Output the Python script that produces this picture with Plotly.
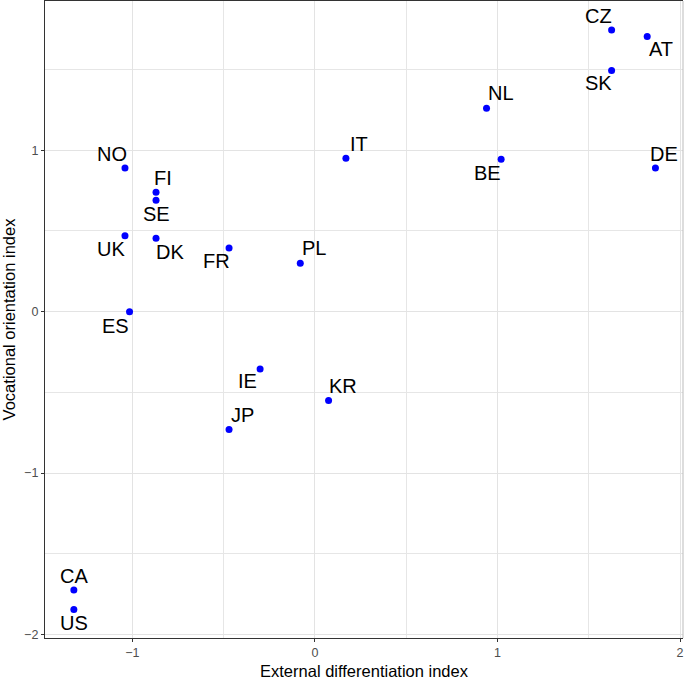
import plotly.graph_objects as go

countries = ["NO", "FI", "SE", "UK", "DK", "FR", "PL", "ES", "IT", "NL",
             "BE", "CZ", "AT", "SK", "DE", "IE", "KR", "JP", "CA", "US"]
external_diff = [-1.04, -0.87, -0.87, -1.04, -0.87, -0.47, -0.08, -1.015, 0.17, 0.94,
                 1.02, 1.625, 1.82, 1.625, 1.865, -0.30, 0.075, -0.47, -1.32, -1.32]
vocational = [0.89, 0.74, 0.69, 0.47, 0.455, 0.395, 0.30, 0.0, 0.95, 1.26,
              0.945, 1.745, 1.705, 1.495, 0.89, -0.355, -0.55, -0.73, -1.725, -1.845]

# label offsets in pixels (dx right, dy up) for repelled text labels
label_offsets = {
    "NO": (-13, 13), "FI": (7, 13), "SE": (0, -15), "UK": (-14, -14.5),
    "DK": (13.5, -14.5), "FR": (-12.5, -14), "PL": (14, 14), "ES": (-14, -15),
    "IT": (13.5, 13), "NL": (14, 14), "BE": (-13.5, -15), "CZ": (-13, 13),
    "AT": (13.5, -13.5), "SK": (-13, -14), "DE": (9, 13), "IE": (-13, -13.5),
    "KR": (14, 13), "JP": (13.5, 13), "CA": (0, 13), "US": (0, -14.5),
}

FONT = "Liberation Sans, Arial, Helvetica, sans-serif"

fig = go.Figure()
fig.add_trace(go.Scatter(
    x=external_diff, y=vocational, mode="markers",
    marker=dict(size=7, color="#0000FF"),
    text=countries, hoverinfo="text", showlegend=False,
))

for c, x, y in zip(countries, external_diff, vocational):
    dx, dy = label_offsets[c]
    fig.add_annotation(x=x, y=y, text=c, showarrow=False,
                       xshift=dx, yshift=dy + 1,
                       xanchor="center", yanchor="middle",
                       font=dict(family=FONT, size=20, color="black"))

axis_common = dict(
    automargin=False,
    showgrid=True, gridcolor="#E3E3E3", gridwidth=1.4,
    zeroline=False,
    showline=True, linecolor="#333333", linewidth=1.3,
    ticks="outside", ticklen=3, tickcolor="#333333", tickwidth=1.1,
    tickfont=dict(family=FONT, size=12.5, color="#4D4D4D"),
    dtick=1, tick0=0,
    minor=dict(dtick=0.5, tick0=0, showgrid=True, gridcolor="#E6E6E6",
               gridwidth=1.1, ticks=""),
)

fig.update_xaxes(range=[-1.478, 2.016], mirror=True,
                 title=dict(text="External differentiation index", standoff=6,
                            font=dict(family=FONT, size=16.5, color="black")),
                 **axis_common)
fig.update_yaxes(range=[-2.022, 1.925],
                 title=dict(text="Vocational orientation index", standoff=8,
                            font=dict(family=FONT, size=16.5, color="black")),
                 **axis_common)

fig.add_shape(type="line", xref="paper", yref="paper", x0=1, x1=1, y0=0, y1=1,
              line=dict(color="#BBBBBB", width=1))

fig.update_layout(
    width=685, height=682,
    margin=dict(l=45, r=2, t=1, b=44),
    paper_bgcolor="white", plot_bgcolor="white",
    font=dict(family=FONT),
)

fig.write_html("out.html",
               config={"displayModeBar": False},
               post_script="document.body.style.margin='0';"
                           "document.body.style.overflow='hidden';")
